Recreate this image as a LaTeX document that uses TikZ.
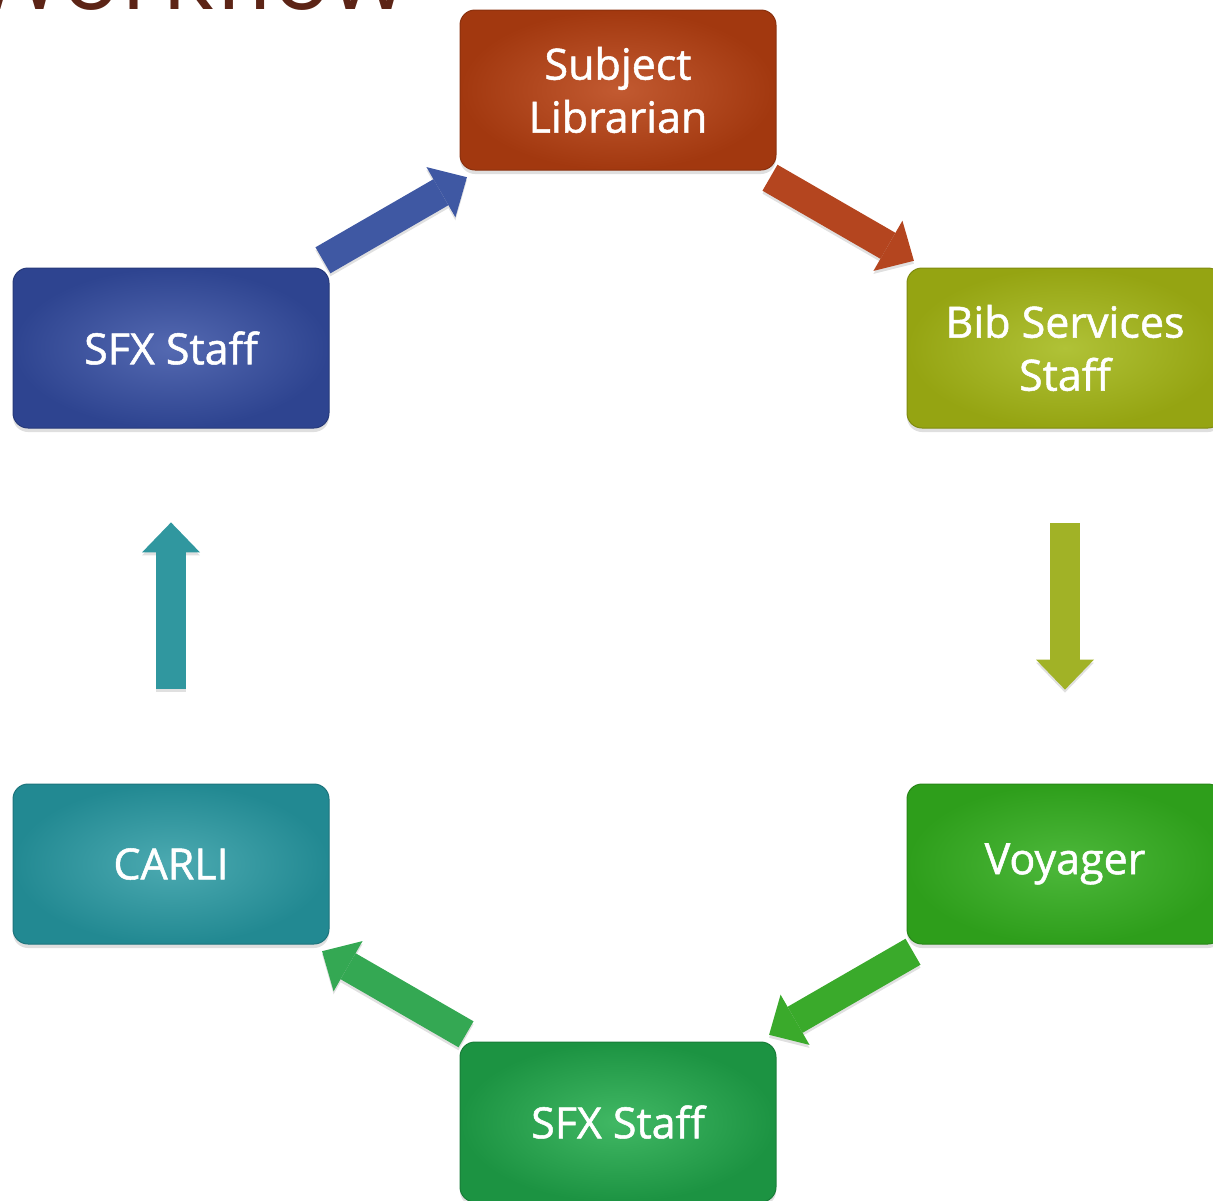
\documentclass[tikz,border=0pt]{standalone}
\usepackage{fontspec}
\setmainfont{Open Sans}
\newfontfamily\boxfont{Open Sans}[FakeBold=1.2]
\usetikzlibrary{calc,arrows.meta,shadows}
\definecolor{titlebrown}{HTML}{5C2416}
\definecolor{slout}{HTML}{A2380F}
\definecolor{slin}{HTML}{C25A31}
\definecolor{bibout}{HTML}{95A412}
\definecolor{bibin}{HTML}{B0C237}
\definecolor{voyout}{HTML}{2E9E1B}
\definecolor{voyin}{HTML}{4DB83B}
\definecolor{sfxbout}{HTML}{1C9342}
\definecolor{sfxbin}{HTML}{41B864}
\definecolor{carout}{HTML}{228992}
\definecolor{carin}{HTML}{4CAAB1}
\definecolor{sfxlout}{HTML}{2E4490}
\definecolor{sfxlin}{HTML}{5469B1}
\definecolor{arBlue}{HTML}{3F58A3}
\definecolor{arRed}{HTML}{B4451F}
\definecolor{arOlive}{HTML}{A1B226}
\definecolor{arGreenA}{HTML}{3AAA2B}
\definecolor{arGreenB}{HTML}{34A853}
\definecolor{arTeal}{HTML}{30979F}
\begin{document}
\begin{tikzpicture}[x=1pt,y=-1pt,
  box/.style={rectangle, rounded corners=15pt, minimum width=316pt,
    minimum height=160pt, text=white, align=center, line width=1pt,
    font=\boxfont\fontsize{43}{53}\selectfont,
    drop shadow={shadow xshift=0pt, shadow yshift=-4pt, opacity=0.25}},
  blockarrow/.style={line width=30pt,
    -{Triangle[length=30pt,width=58pt,line width=0pt]}},
  arrowshadow/.style={blockarrow, draw=black!12,
    transform canvas={yshift=-3pt}},
]
\useasboundingbox (0,0) rectangle (1213,1200);
\clip (0,0) rectangle (1213,1200);

% title (cut off by the top edge)
\node[anchor=base west, inner sep=0pt, text=titlebrown,
  font=\fontsize{99}{99}\selectfont] (title) at (-28,9) {Workflow};

% boxes
\node[box, inner color=slin, outer color=slout, draw=slout!85!black]
  (SL) at (618,90) {Subject\\Librarian};
\node[box, inner color=bibin, outer color=bibout, draw=bibout!85!black]
  (Bib) at (1065,348) {Bib Services\\Staff};
\node[box, inner color=voyin, outer color=voyout, draw=voyout!85!black]
  (Voy) at (1065,864) {Voyager};
\node[box, inner color=sfxbin, outer color=sfxbout, draw=sfxbout!85!black]
  (SFXb) at (618,1122) {SFX Staff};
\node[box, inner color=carin, outer color=carout, draw=carout!85!black]
  (CARLI) at (171,864) {CARLI};
\node[box, inner color=sfxlin, outer color=sfxlout, draw=sfxlout!85!black]
  (SFXl) at (171,348) {SFX Staff};

% block arrows between the boxes
\foreach \a/\b/\c in {SFXl/SL/arBlue, SL/Bib/arRed, Bib/Voy/arOlive,
    Voy/SFXb/arGreenA, SFXb/CARLI/arGreenB, CARLI/SFXl/arTeal}{
  \draw[arrowshadow] ($(\a)!0.34!(\b)$) -- ($(\a)!0.662!(\b)$);
  \draw[blockarrow, draw=\c] ($(\a)!0.34!(\b)$) -- ($(\a)!0.662!(\b)$);
}
\end{tikzpicture}
\end{document}
